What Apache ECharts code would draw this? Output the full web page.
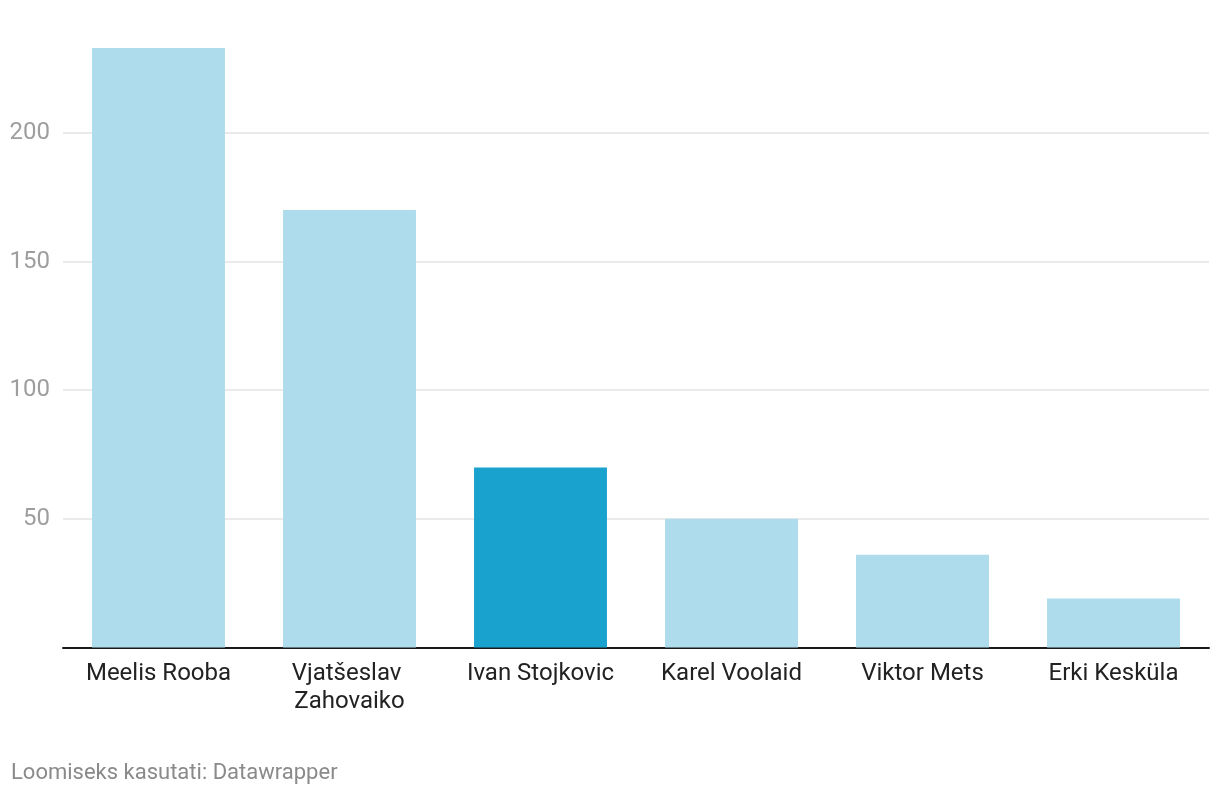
<!DOCTYPE html>
<html>
<head>
<meta charset="utf-8">
<script src="https://cdn.jsdelivr.net/npm/echarts@6/dist/echarts.min.js"></script>
<style>
html,body{margin:0;padding:0;background:#fff;}
#chart{width:1220px;height:796px;}
</style>
</head>
<body>
<div id="chart"></div>
<script>
const categories = ['Meelis Rooba', 'Vjatšeslav Zahovaiko', 'Ivan Stojkovic', 'Karel Voolaid', 'Viktor Mets', 'Erki Kesküla'];
const values = [233, 170, 70, 50, 36, 19];
const highlightIndex = 2;
const footerText = 'Loomiseks kasutati: Datawrapper';

const chart = echarts.init(document.getElementById('chart'), null, {renderer: 'canvas'});
chart.setOption({
  animation: false,
  backgroundColor: '#ffffff',
  textStyle: {fontFamily: 'Roboto'},
  grid: {left: 63, right: 11, top: 48, bottom: 148.5, containLabel: false},
  graphic: [{
    type: 'text', left: 11, top: 762,
    style: {text: footerText, fill: '#8a8a8a', font: '22px Roboto'}
  }],
  xAxis: {
    type: 'category',
    data: categories,
    axisLine: {show: true, lineStyle: {color: '#1a1a1a', width: 2}},
    axisTick: {show: false},
    axisLabel: {
      color: '#222', fontSize: 24, fontFamily: 'Roboto', margin: 12,
      lineHeight: 28, width: 185, overflow: 'break', interval: 0
    }
  },
  yAxis: {
    type: 'value',
    min: 0, max: 233, interval: 50,
    axisLine: {show: false},
    axisTick: {show: false},
    axisLabel: {color: '#9e9e9e', fontSize: 24, fontFamily: 'Roboto', margin: 13, showMaxLabel: false, showMinLabel: false},
    splitLine: {show: true, showMaxLine: false, showMinLine: false, lineStyle: {color: '#e3e3e3', width: 1.5}}
  },
  series: [{
    type: 'bar',
    data: values.map((v, i) => ({value: v, itemStyle: {color: i === highlightIndex ? '#1aa2cf' : '#aedcec'}})),
    barWidth: '69.6%',
    itemStyle: {color: '#aedcec'}
  }]
});
</script>
</body>
</html>
